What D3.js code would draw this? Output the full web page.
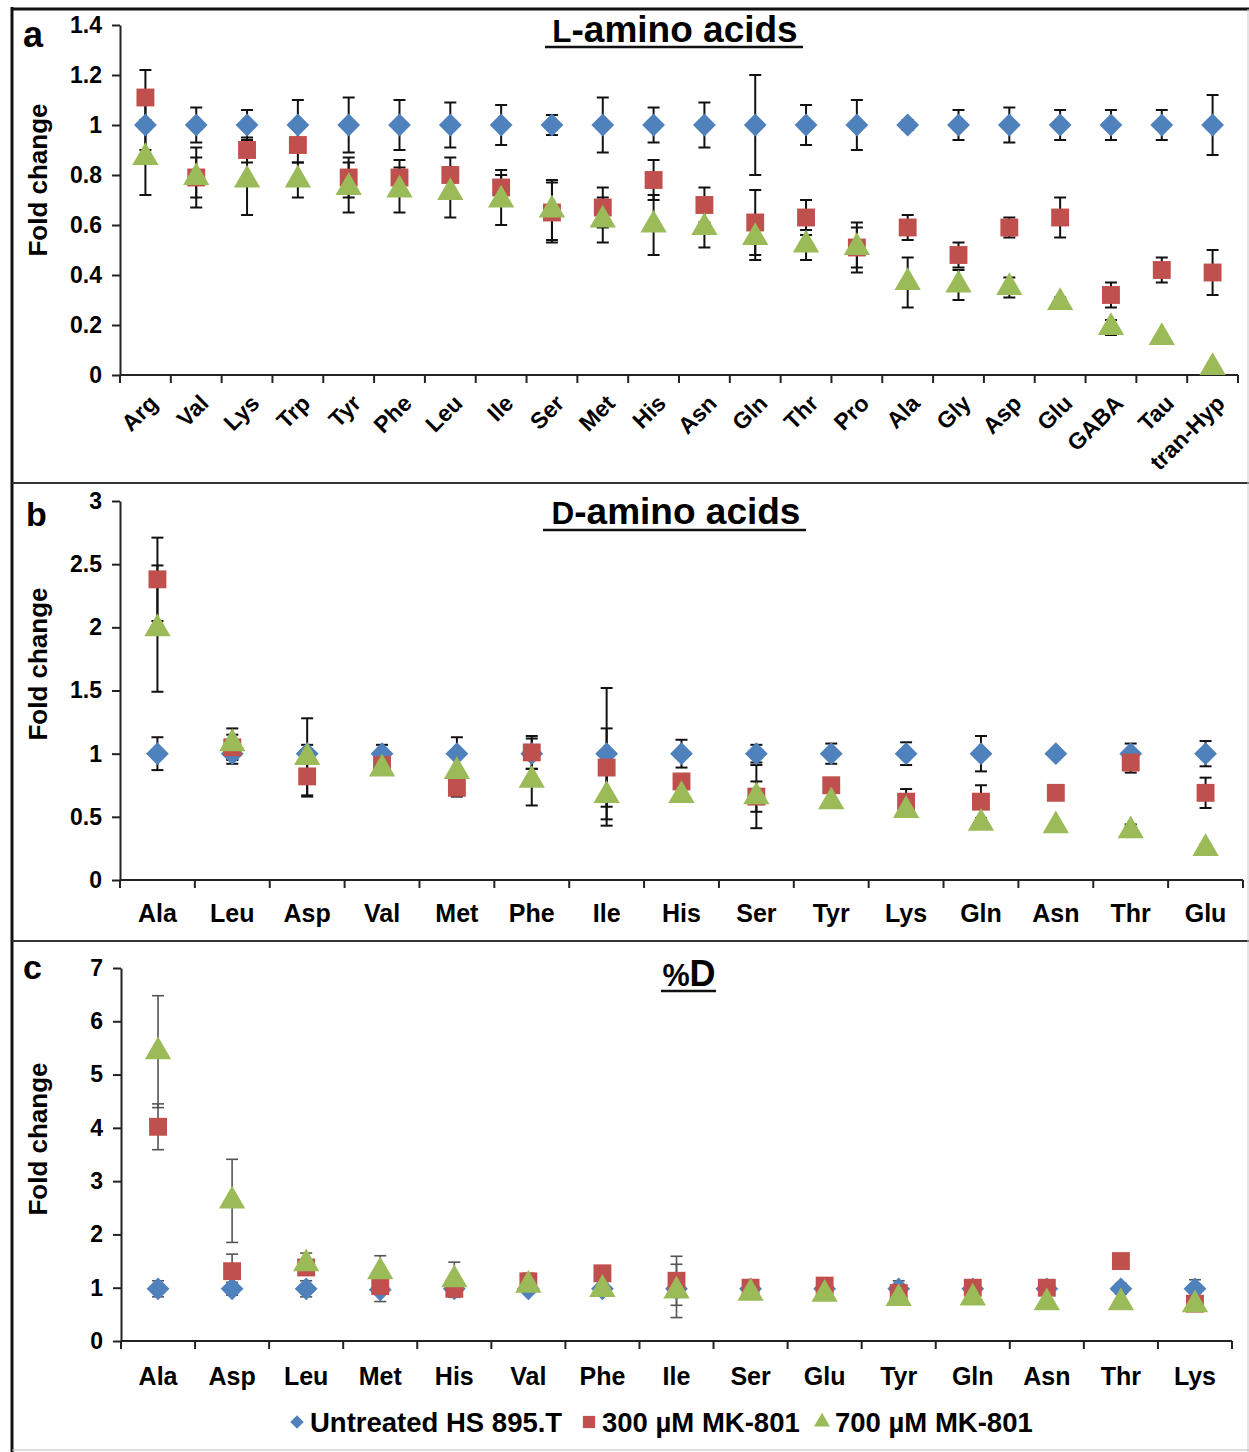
<!DOCTYPE html>
<html>
<head>
<meta charset="utf-8">
<script src="https://cdn.jsdelivr.net/npm/d3@7"></script>
<style>
  body { margin: 0; background: #fff; }
  svg { display: block; }
  text { font-family: "Liberation Sans", Arial, sans-serif; font-weight: bold; fill: #000; }
</style>
</head>
<body>
<div id="chart"></div>
<script>
// ---- data ----
const seriesNames = ["Untreated HS 895.T", "300 \u00b5M MK-801", "700 \u00b5M MK-801"];

// panel a: L-amino acids
const catsL = ["Arg","Val","Lys","Trp","Tyr","Phe","Leu","Ile","Ser","Met","His","Asn","Gln","Thr","Pro","Ala","Gly","Asp","Glu","GABA","Tau","tran-Hyp"];
const untreatedL    = [1,1,1,1,1,1,1,1,1,1,1,1,1,1,1,1,1,1,1,1,1,1];
const untreatedLErr = [0.10,0.07,0.06,0.10,0.11,0.10,0.09,0.08,0.04,0.11,0.07,0.09,0.20,0.08,0.10,0.02,0.06,0.07,0.06,0.06,0.06,0.12];
const mk300L    = [1.11,0.79,0.90,0.92,0.79,0.79,0.80,0.75,0.65,0.67,0.78,0.68,0.61,0.63,0.51,0.59,0.48,0.59,0.63,0.32,0.42,0.41];
const mk300LErr = [0.11,0.08,0.05,0.07,0.08,0.07,0.07,0.07,0.12,0.08,0.08,0.07,0.13,0.07,0.10,0.05,0.05,0.04,0.08,0.05,0.05,0.09];
const mk700L    = [0.87,0.79,0.78,0.78,0.75,0.74,0.73,0.70,0.66,0.62,0.60,0.59,0.55,0.52,0.51,0.37,0.36,0.35,0.29,0.19,0.15,0.03];
const mk700LErr = [0.15,0.12,0.14,0.07,0.10,0.09,0.10,0.10,0.12,0.09,0.12,0.08,0.09,0.06,0.08,0.10,0.06,0.04,0.02,0.03,0.01,0.01];
const ticksL = [0,0.2,0.4,0.6,0.8,1,1.2,1.4];

// panel b: D-amino acids
const catsD = ["Ala","Leu","Asp","Val","Met","Phe","Ile","His","Ser","Tyr","Lys","Gln","Asn","Thr","Glu"];
const untreatedD    = [1,1,1,1,1,1,1,1,1,1,1,1,1,1,1];
const untreatedDErr = [0.13,0.08,0.07,0.07,0.13,0.12,0.52,0.11,0.07,0.08,0.09,0.14,0.02,0.08,0.10];
const mk300D    = [2.38,1.05,0.82,0.91,0.73,1.01,0.89,0.78,0.66,0.75,0.62,0.62,0.69,0.93,0.69];
const mk300DErr = [0.33,0.10,0.15,0.05,0.07,0.13,0.31,0.03,0.12,0.03,0.10,0.13,0.02,0.08,0.12];
const mk700D    = [1.99,1.08,0.97,0.88,0.86,0.79,0.67,0.67,0.66,0.62,0.55,0.45,0.43,0.39,0.25];
const mk700DErr = [0.50,0.12,0.31,0.03,0.02,0.20,0.24,0.02,0.25,0.02,0.02,0.02,0.02,0.05,0.03];
const ticksD = [0,0.5,1,1.5,2,2.5,3];

// panel c: %D
const catsP = ["Ala","Asp","Leu","Met","His","Val","Phe","Ile","Ser","Glu","Tyr","Gln","Asn","Thr","Lys"];
const untreatedP    = [0.98,0.98,0.98,0.96,0.98,0.98,0.98,0.98,0.98,0.98,0.98,0.98,0.98,0.98,0.98];
const untreatedPErr = [0.15,0.12,0.15,0.22,0.10,0.08,0.10,0.10,0.05,0.05,0.15,0.05,0.05,0.10,0.17];
const mk300P    = [4.02,1.31,1.38,1.03,0.98,1.12,1.27,1.13,1.00,1.04,0.90,1.00,1.00,1.50,0.70];
const mk300PErr = [0.43,0.32,0.10,0.05,0.05,0.15,0.05,0.46,0.05,0.05,0.05,0.05,0.05,0.03,0.05];
const mk700P    = [5.43,2.63,1.45,1.30,1.15,1.05,0.97,0.94,0.90,0.88,0.80,0.81,0.72,0.72,0.68];
const mk700PErr = [1.05,0.78,0.20,0.30,0.33,0.10,0.05,0.50,0.05,0.05,0.05,0.05,0.05,0.05,0.05];
const ticksP = [0,1,2,3,4,5,6,7];

const colors = ["#4F81BD", "#C0504D", "#9BBB59"];
const shapes = ["diamond", "square", "triangle"];

const width = 1249, height = 1452;
const svg = d3.select("#chart").append("svg")
  .attr("width", width)
  .attr("height", height);

// frame lines
svg.append("line").attr("x1", 12).attr("x2", 12).attr("y1", 7).attr("y2", height)
  .attr("stroke", "#111").attr("stroke-width", 3);
svg.append("line").attr("x1", 11).attr("x2", width).attr("y1", 9).attr("y2", 9)
  .attr("stroke", "#111").attr("stroke-width", 3);
[483, 941].forEach(y => {
  svg.append("line").attr("x1", 12).attr("x2", width).attr("y1", y).attr("y2", y)
    .attr("stroke", "#333").attr("stroke-width", 2);
});
svg.append("line").attr("x1", 1248).attr("x2", 1248).attr("y1", 9).attr("y2", height)
  .attr("stroke", "#ccc").attr("stroke-width", 1);
svg.append("line").attr("x1", 12).attr("x2", width).attr("y1", 1450).attr("y2", 1450)
  .attr("stroke", "#bbb").attr("stroke-width", 1);

function symbolPath(shape, size) {
  if (shape === "triangle") return d3.symbol(d3.symbolTriangle, size)();
  return d3.symbol(d3.symbolSquare, size)();
}

function drawMarker(g, shape, x, y, color, size) {
  g.append("path")
    .attr("d", symbolPath(shape, size))
    .attr("transform", "translate(" + x + "," + y + ")" + (shape === "diamond" ? " rotate(45)" : ""))
    .attr("fill", color);
}

function drawPanel(p) {
  const g = svg.append("g");

  const x = d3.scaleBand().domain(p.cats).range([p.x0, p.x1]).padding(0);
  const y = d3.scaleLinear().domain([0, p.ticks[p.ticks.length - 1]]).range([p.yBot, p.yTop]);

  // y axis
  const yAxis = g.append("g")
    .attr("transform", "translate(" + p.x0 + ",0)")
    .call(d3.axisLeft(y).tickValues(p.ticks).tickSize(8).tickSizeOuter(0).tickPadding(10)
      .tickFormat(d3.format("~g")));
  yAxis.select(".domain").attr("stroke", "#222").attr("stroke-width", 2);
  yAxis.selectAll(".tick line").attr("stroke", "#222").attr("stroke-width", 2);
  yAxis.selectAll(".tick text").attr("font-size", 23).attr("fill", "#000")
    .attr("font-family", "Liberation Sans, Arial, sans-serif").attr("font-weight", "bold");

  // x axis: line + boundary ticks
  g.append("line").attr("x1", p.x0).attr("x2", p.x1).attr("y1", p.yBot).attr("y2", p.yBot)
    .attr("stroke", "#222").attr("stroke-width", 2);
  const bounds = p.cats.map(c => x(c)).concat([p.x1]);
  g.selectAll(".xt").data(bounds).enter().append("line")
    .attr("x1", d => d).attr("x2", d => d)
    .attr("y1", p.yBot).attr("y2", p.yBot + 8)
    .attr("stroke", "#222").attr("stroke-width", 2);

  // category labels
  if (p.rotate) {
    g.selectAll(".xl").data(p.cats).enter().append("text")
      .attr("transform", d => "translate(" + (x(d) + x.bandwidth() / 2 + 8) + "," + (p.yBot + 24) + ") rotate(-45)")
      .attr("text-anchor", "end")
      .attr("dy", "0.35em")
      .attr("font-size", 23)
      .text(d => d);
  } else {
    g.selectAll(".xl").data(p.cats).enter().append("text")
      .attr("x", d => x(d) + x.bandwidth() / 2)
      .attr("y", p.yBot + p.labelOffset)
      .attr("text-anchor", "middle")
      .attr("font-size", 25)
      .text(d => d);
  }

  // y label
  g.append("text")
    .attr("transform", "translate(" + 47 + "," + p.yLabelY + ") rotate(-90)")
    .attr("text-anchor", "middle")
    .attr("font-size", 26)
    .text("Fold change");

  // panel letter
  g.append("text").attr("x", p.letterX).attr("y", p.letterY)
    .attr("font-size", p.letterSize).text(p.letter);

  // title with underline
  const t = g.append("text").attr("x", p.titleX).attr("y", p.titleY)
    .attr("text-anchor", "middle").attr("font-size", p.titleSize);
  t.append("tspan").attr("font-size", p.titleSize * 0.85).text(p.titleA);
  t.append("tspan").text(p.titleB);
  g.append("line").attr("x1", p.ulX0).attr("x2", p.ulX1).attr("y1", p.ulY).attr("y2", p.ulY)
    .attr("stroke", "#111").attr("stroke-width", 2.5);

  // error bars (all series under the markers)
  const cx = c => x(c) + x.bandwidth() / 2;
  p.series.forEach(s => {
    const eg = g.append("g").attr("stroke", p.errColor).attr("stroke-width", p.errWidth);
    s.values.forEach((v, i) => {
      const c = cx(p.cats[i]);
      const hi = y(v + s.errs[i]), lo = y(v - s.errs[i]);
      eg.append("line").attr("x1", c).attr("x2", c).attr("y1", hi).attr("y2", lo);
      eg.append("line").attr("x1", c - 6).attr("x2", c + 6).attr("y1", hi).attr("y2", hi);
      eg.append("line").attr("x1", c - 6).attr("x2", c + 6).attr("y1", lo).attr("y2", lo);
    });
  });

  // markers
  const sizes = { diamond: 260, square: 320, triangle: 300 };
  p.series.forEach(s => {
    s.values.forEach((v, i) => {
      drawMarker(g, s.shape, cx(p.cats[i]), y(v), s.color, sizes[s.shape]);
    });
  });
}

function makeSeries(vals, errs) {
  return vals.map((v, k) => ({ name: seriesNames[k], values: v, errs: errs[k], color: colors[k], shape: shapes[k] }));
}

drawPanel({
  cats: catsL, ticks: ticksL,
  series: makeSeries([untreatedL, mk300L, mk700L], [untreatedLErr, mk300LErr, mk700LErr]),
  x0: 120, x1: 1238, yTop: 25, yBot: 375, rotate: true, yLabelY: 180,
  letter: "a", letterX: 23, letterY: 47, letterSize: 36,
  titleA: "L", titleB: "-amino acids", titleX: 675, titleY: 42, titleSize: 37,
  ulX0: 545, ulX1: 803, ulY: 47,
  errColor: "#111", errWidth: 2
});

drawPanel({
  cats: catsD, ticks: ticksD,
  series: makeSeries([untreatedD, mk300D, mk700D], [untreatedDErr, mk300DErr, mk700DErr]),
  x0: 120, x1: 1243, yTop: 501, yBot: 880, rotate: false, labelOffset: 42, yLabelY: 664,
  letter: "b", letterX: 26, letterY: 526, letterSize: 34,
  titleA: "D", titleB: "-amino acids", titleX: 676, titleY: 524, titleSize: 37,
  ulX0: 543, ulX1: 806, ulY: 530,
  errColor: "#111", errWidth: 2
});

drawPanel({
  cats: catsP, ticks: ticksP,
  series: makeSeries([untreatedP, mk300P, mk700P], [untreatedPErr, mk300PErr, mk700PErr]),
  x0: 121, x1: 1232, yTop: 968, yBot: 1341, rotate: false, labelOffset: 44, yLabelY: 1139,
  letter: "c", letterX: 23, letterY: 979, letterSize: 34,
  titleA: "%", titleB: "D", titleX: 689, titleY: 986, titleSize: 36,
  ulX0: 661, ulX1: 716, ulY: 991,
  errColor: "#555", errWidth: 1.6
});

// legend
const legendX = [297, 589, 822];
const legendSizes = { diamond: 90, square: 150, triangle: 110 };
const lg = svg.append("g");
seriesNames.forEach((name, k) => {
  drawMarker(lg, shapes[k], legendX[k], 1422, colors[k], legendSizes[shapes[k]]);
  lg.append("text").attr("x", legendX[k] + 13).attr("y", 1432)
    .attr("font-size", 27.5).text(name);
});
</script>
</body>
</html>
